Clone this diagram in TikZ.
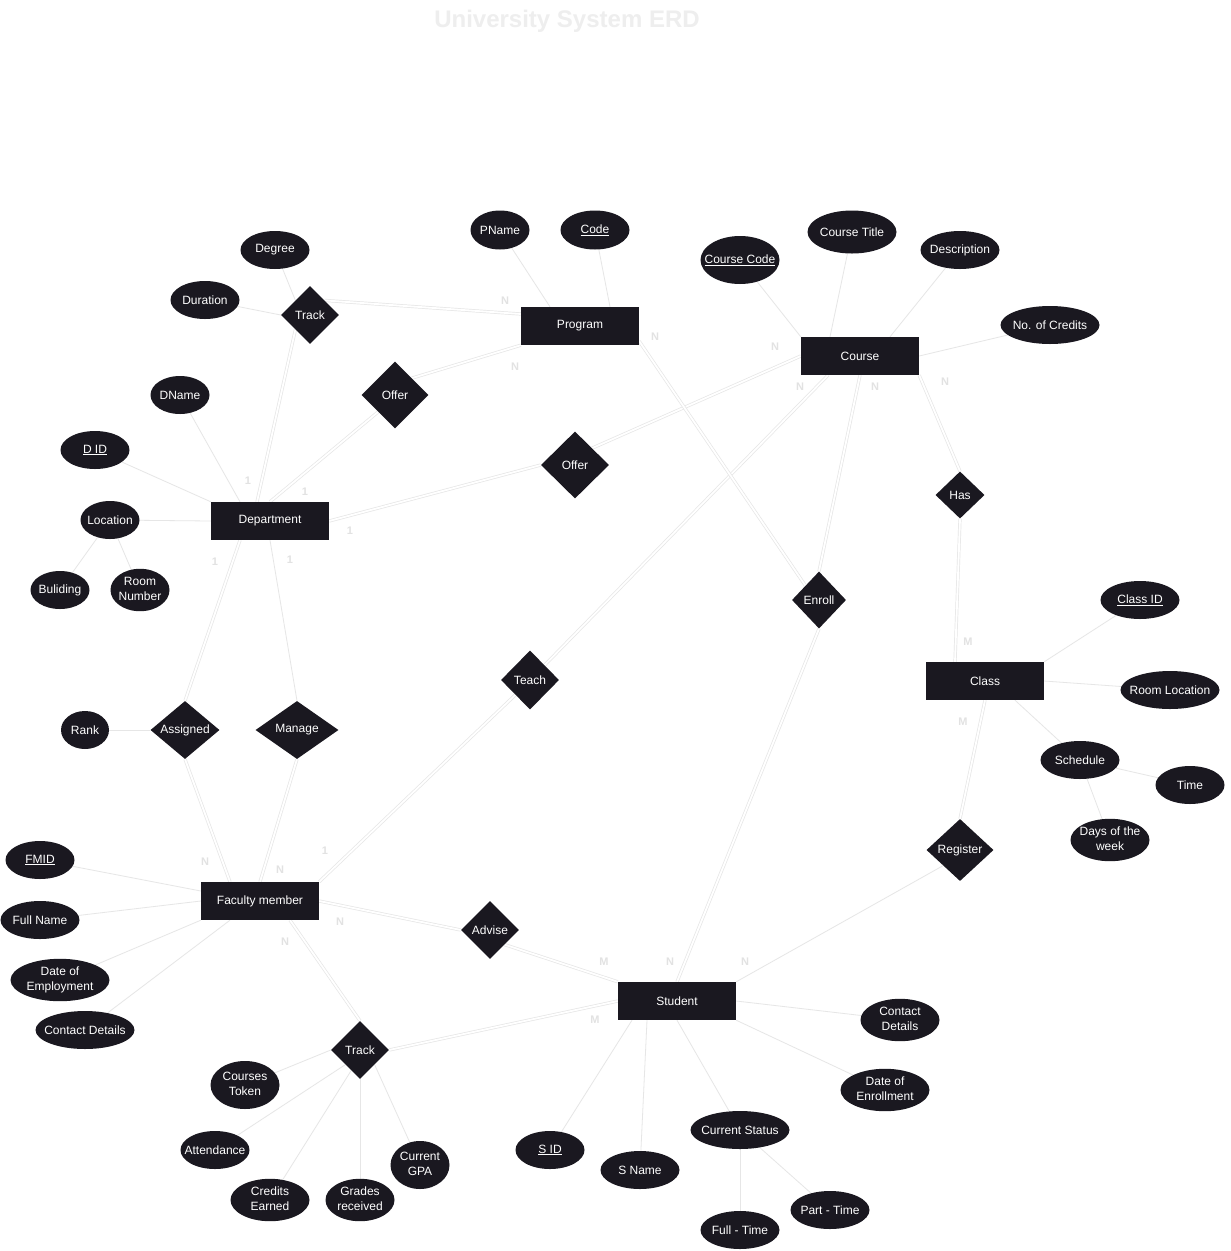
\documentclass[tikz,border=0pt]{standalone}
\usepackage{fontspec}
\setmainfont{Liberation Sans}
\usetikzlibrary{shapes.geometric,calc,backgrounds}
\definecolor{erfill}{RGB}{26,24,32}
\definecolor{lngray}{RGB}{230,230,230}
\definecolor{lblgray}{RGB}{226,226,226}
\definecolor{ttlgray}{RGB}{238,238,238}
\newcommand\zt[1]{\makebox[0pt]{#1}}
\newcommand\twoln[2]{\makebox[0pt]{\begin{tabular}{@{}c@{}}#1\\#2\end{tabular}}}
\begin{document}
\begin{tikzpicture}[x=1pt,y=-1pt,
  ent/.style={rectangle, fill=erfill, text=white, minimum width=118pt, minimum height=38pt, inner sep=0pt, font=\fontsize{12}{15}\selectfont},
  rel/.style={diamond, fill=erfill, text=white, inner sep=0pt, font=\fontsize{12}{15}\selectfont, minimum width=58pt, minimum height=58pt},
  attr/.style={ellipse, fill=erfill, text=white, inner sep=0pt, minimum height=38pt, minimum width=69pt, font=\fontsize{12}{15}\selectfont},
  al/.style={draw=lngray, line width=0.8pt},
  rl/.style={draw=lngray, line width=0.7pt, double=white, double distance=1.8pt},
  card/.style={text=lblgray, font=\bfseries\fontsize{11}{12}\selectfont, inner sep=0pt}
]
\useasboundingbox (0,0) rectangle (1231,1251);

% title
\node[text=ttlgray, font=\bfseries\fontsize{24}{24}\selectfont] (title) at (567,21) {University System ERD};

% entities
\node[ent] (prog)   at (580,326)  {Program};
\node[ent] (course) at (860,356)  {Course};
\node[ent] (dept)   at (270,521)  {Department};
\node[ent] (class)  at (985,681)  {Class};
\node[ent] (fac)    at (260,901)  {Faculty member};
\node[ent] (stud)   at (677,1001) {Student};

% relationships
\node[rel] (trk1)   at (310,315) {\zt{Track}};
\node[rel, minimum width=67pt, minimum height=67pt] (off1) at (395,395) {\zt{Offer}};
\node[rel, minimum width=68pt, minimum height=67pt] (off2) at (575,465) {\zt{Offer}};
\node[rel, minimum width=49pt, minimum height=47pt] (has) at (960,495) {\zt{Has}};
\node[rel, minimum width=54pt, minimum height=57pt] (enroll) at (819,600) {\zt{Enroll}};
\node[rel, minimum height=59pt] (teach) at (530,680) {\zt{Teach}};
\node[rel, minimum width=69pt] (assg) at (185,730) {\zt{Assigned}};
\node[rel, minimum width=83pt] (mng) at (297,730) {\zt{Manage}};
\node[rel, minimum width=67pt, minimum height=62pt] (reg) at (960,850) {\zt{Register}};
\node[rel] (adv)  at (490,930)  {\zt{Advise}};
\node[rel] (trk2) at (360,1050) {\zt{Track}};

% attributes
\node[attr] (degree) at (275,250) {\zt{Degree}};
\node[attr] (duration) at (205,300) {\zt{Duration}};
\node[attr, minimum width=59pt, minimum height=39pt] (pname) at (500,230) {\zt{PName}};
\node[attr, minimum height=39pt] (code) at (595,230) {\zt{\underline{Code}}};
\node[attr, minimum width=79pt, minimum height=48pt] (ccode) at (740,260) {\zt{\underline{Course Code}}};
\node[attr, minimum width=89pt, minimum height=43pt] (ctitle) at (852,232) {\zt{Course Title}};
\node[attr, minimum width=79pt] (descr) at (960,250) {\zt{Description}};
\node[attr, minimum width=99pt] (ncred) at (1050,325) {\zt{No. of Credits}};
\node[attr, minimum width=59pt] (dname) at (180,395) {\zt{DName}};
\node[attr] (did) at (95,450) {\zt{\underline{D ID}}};
\node[attr, minimum width=59pt] (loc) at (110,520) {\zt{Location}};
\node[attr, minimum width=59pt] (bld) at (60,590) {\zt{Buliding}};
\node[attr, minimum width=59pt] (roomn) at (140,590) {\twoln{Room}{Number}};
\node[attr, minimum width=79pt] (clsid) at (1140,600) {\zt{\underline{Class ID}}};
\node[attr, minimum width=99pt] (rloc) at (1170,690) {\zt{Room Location}};
\node[attr, minimum width=79pt] (sched) at (1080,760) {\zt{Schedule}};
\node[attr] (time) at (1190,785) {\zt{Time}};
\node[attr, minimum width=79pt] (days) at (1110,840) {\twoln{Days of the}{week}};
\node[attr, minimum width=48pt] (rank) at (85,730) {\zt{Rank}};
\node[attr] (fmid) at (40,860) {\zt{\underline{FMID}}};
\node[attr, minimum width=79pt] (fname) at (40,920) {\zt{Full Name}};
\node[attr, minimum width=99pt] (demp) at (60,980) {\twoln{Date of}{Employment}};
\node[attr, minimum width=99pt] (fcont) at (85,1030) {\zt{Contact Details}};
\node[attr, minimum height=48pt] (ctok) at (245,1085) {\twoln{Courses}{Token}};
\node[attr] (attn) at (215,1150) {\zt{Attendance}};
\node[attr, minimum width=79pt] (cred) at (270,1200) {\twoln{Credits}{Earned}};
\node[attr] (grades) at (360,1200) {\twoln{Grades}{received}};
\node[attr, minimum width=59pt, minimum height=48pt] (gpa) at (420,1165) {\twoln{Current}{GPA}};
\node[attr, minimum width=79pt] (scont) at (900,1020) {\twoln{Contact}{Details}};
\node[attr, minimum width=89pt] (senr) at (885,1090) {\twoln{Date of}{Enrollment}};
\node[attr] (sid) at (550,1150) {\zt{\underline{S ID}}};
\node[attr, minimum width=79pt] (sname) at (640,1170) {\zt{S Name}};
\node[attr, minimum width=99pt] (cstat) at (740,1130) {\zt{Current Status}};
\node[attr, minimum width=79pt] (ftime) at (740,1230) {\zt{Full - Time}};
\node[attr, minimum width=79pt] (ptime) at (830,1210) {\zt{Part - Time}};

% cardinality labels
\node[card] (c1)  at (505,301) {N};
\node[card] (c2)  at (515,367) {N};
\node[card] (c3)  at (655,337) {N};
\node[card] (c4)  at (775,347) {N};
\node[card] (c5)  at (800,387) {N};
\node[card] (c6)  at (875,387) {N};
\node[card] (c7)  at (945,382) {N};
\node[card] (c8)  at (248,481) {1};
\node[card] (c9)  at (305,492) {1};
\node[card] (c10) at (350,531) {1};
\node[card] (c11) at (215,562) {1};
\node[card] (c12) at (290,560) {1};
\node[card] (c13) at (968,642) {M};
\node[card] (c14) at (963,722) {M};
\node[card] (c15) at (205,862) {N};
\node[card] (c16) at (280,870) {N};
\node[card] (c17) at (325,851) {1};
\node[card] (c18) at (340,922) {N};
\node[card] (c19) at (285,942) {N};
\node[card] (c20) at (604,962) {M};
\node[card] (c21) at (670,962) {N};
\node[card] (c22) at (745,962) {N};
\node[card] (c23) at (595,1020) {M};

\begin{pgfonlayer}{background}
\fill[white] (0,0) rectangle (1231,1251);
% attribute lines
\draw[al] (degree) -- (trk1.north west);
\draw[al] (duration) -- (trk1.west);
\draw[al] (pname) -- ($(prog.north)+(-30,0)$);
\draw[al] (code) -- ($(prog.north)+(30,0)$);
\draw[al] (ccode) -- (course.north west);
\draw[al] (ctitle) -- ($(course.north)+(-30,0)$);
\draw[al] (descr) -- ($(course.north)+(30,0)$);
\draw[al] (ncred) -- (course.east);
\draw[al] (dname) -- ($(dept.north)+(-30,0)$);
\draw[al] (did) -- (dept.north west);
\draw[al] (loc) -- (dept.west);
\draw[al] (loc) -- (bld);
\draw[al] (loc) -- (roomn);
\draw[al] (clsid) -- (class.north east);
\draw[al] (rloc) -- (class.east);
\draw[al] (sched) -- ($(class.south)+(30,0)$);
\draw[al] (sched) -- (time);
\draw[al] (sched) -- (days);
\draw[al] (rank) -- (assg.west);
\draw[al] (fmid) -- ($(fac.west)+(0,-10)$);
\draw[al] (fname) -- (fac.west);
\draw[al] (demp) -- (fac.south west);
\draw[al] (fcont) -- ($(fac.south)+(-30,0)$);
\draw[al] (ctok) -- (trk2.west);
\draw[al] (attn) -- (trk2.south west);
\draw[al] (cred) -- ($(trk2.south)!0.3!(trk2.west)$);
\draw[al] (grades) -- (trk2.south);
\draw[al] (gpa) -- (trk2.south east);
\draw[al] (scont) -- (stud.east);
\draw[al] (senr) -- (stud.south east);
\draw[al] (sid) -- ($(stud.south)+(-45,0)$);
\draw[al] (sname) -- ($(stud.south)+(-30,0)$);
\draw[al] (cstat) -- (stud.south);
\draw[al] (cstat) -- (ftime);
\draw[al] (cstat) -- (ptime);
% relationship lines
\draw[rl] (trk1.north east) -- ($(prog.west)+(0,-12)$);
\draw[rl] (trk1.south west) -- ($(dept.north)+(-13,0)$);
\draw[rl] (off1.north east) -- (prog.south west);
\draw[rl] (off1.south west) -- (dept.north);
\draw[rl] (off2.north east) -- (course.west);
\draw[rl] (off2.west) -- (dept.east);
\draw[rl] (teach.north east) -- ($(course.south)+(-32,0)$);
\draw[rl] (teach.south west) -- (fac.north east);
\draw[rl] ($(prog.south east)+(0,-4)$) -- (enroll.north west);
\draw[rl] (course.south) -- (enroll.north);
\draw[rl] (enroll.south) -- (stud.north);
\draw[rl] (course.south east) -- (has.north);
\draw[rl] (has.south) -- ($(class.north)+(-30,0)$);
\draw[rl] (class.south) -- (reg.north);
\draw[al] (reg.south west) -- (stud.north east);
\draw[rl] ($(dept.south)+(-30,0)$) -- (assg.north);
\draw[al] (dept.south) -- (mng.north);
\draw[rl] (assg.south) -- ($(fac.north)+(-30,0)$);
\draw[rl] (mng.south) -- (fac.north);
\draw[rl] (fac.east) -- (adv.west);
\draw[rl] (adv.south east) -- (stud.north west);
\draw[rl] ($(fac.south)+(30,0)$) -- (trk2.north);
\draw[rl] (trk2.east) -- (stud.west);
\end{pgfonlayer}
\end{tikzpicture}
\end{document}
